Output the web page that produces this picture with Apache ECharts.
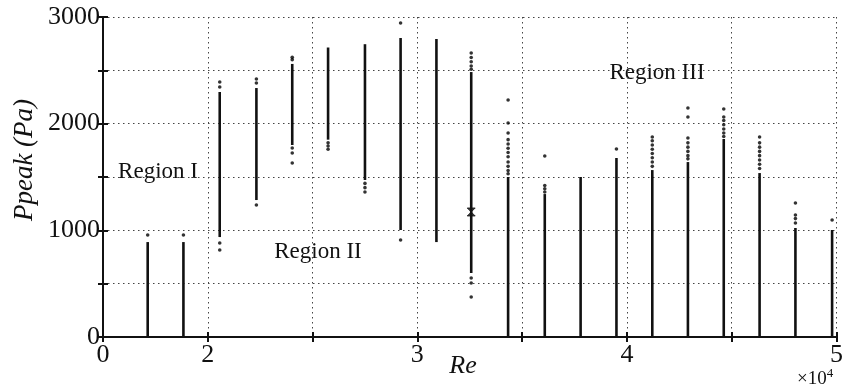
<!DOCTYPE html>
<html>
<head>
<meta charset="utf-8">
<script src="https://cdn.jsdelivr.net/npm/echarts@6/dist/echarts.min.js"></script>
<style>
  html, body { margin: 0; padding: 0; background: #fff; }
  #chart { width: 846px; height: 391px; }
</style>
</head>
<body>
<div id="chart"></div>
<script>
// Re positions of each measured column (x 10^4)
const RE = [0.853, 1.535, 2.057, 2.232, 2.403, 2.574, 2.750, 2.920, 3.091, 3.257,
            3.433, 3.608, 3.779, 3.950, 4.121, 4.291, 4.462, 4.633, 4.804, 4.979];
// solid part of each column (Pa)
const LO = [0, 0, 937, 1284, 1800, 1850, 1472, 1003, 890, 600,
            0, 0, 0, 0, 0, 0, 0, 0, 0, 0];
const HI = [890, 890, 2297, 2334, 2560, 2714, 2745, 2803, 2794, 2484,
            1500, 1340, 1500, 1678, 1565, 1640, 1856, 1537, 1022, 1003];
// scattered points around the column ends (Pa)
const DOTS = [
  [956],
  [956],
  [2391, 2344, 881, 816],
  [2419, 2381, 1237],
  [2622, 2600, 1772, 1725, 1631],
  [1820, 1790, 1760],
  [1440, 1400, 1360],
  [2944, 909],
  [],
  [2662, 2620, 2580, 2540, 2510, 553, 506, 375],
  [2222, 2006, 1912, 1850, 1810, 1770, 1730, 1690, 1640, 1600, 1560, 1530],
  [1697, 1420, 1390, 1360],
  [],
  [1762],
  [1875, 1840, 1800, 1760, 1720, 1680, 1640, 1600],
  [2147, 2062, 1866, 1820, 1780, 1740, 1700, 1670],
  [2137, 2062, 2030, 1990, 1950, 1912, 1880],
  [1875, 1820, 1780, 1740, 1700, 1660, 1620, 1580],
  [1256, 1144, 1110, 1069],
  [1097]
];
const MARK = [3.257, 1172];
// tick labels of the (broken) Re axis, one per axis step
const X_LABELS = ['0', '2', '', '3', '', '4', '', '5'];

// 0..2 is squeezed into the first step, then 0.5 per step
const toAxis = (re) => (re <= 2 ? re / 2 : 1 + (re - 2) * 2);

const FONT = "'Liberation Serif', 'DejaVu Serif', serif";
const INK = '#111';

const cols = RE.map((r, i) => [toAxis(r), LO[i], HI[i]]);
const dots = [];
DOTS.forEach((list, i) => list.forEach(p => dots.push([toAxis(RE[i]), p])));

const axisLine = { lineStyle: { color: INK, width: 2 } };
const tickIn = { inside: true, length: 5, lineStyle: { color: INK, width: 2 } };
const dotted = { show: true, lineStyle: { color: '#444', width: 1, type: [1.5, 3.5] } };

const chart = echarts.init(document.getElementById('chart'), null, { renderer: 'canvas' });
chart.setOption({
  animation: false,
  grid: { left: 103, right: 4, top: 17, bottom: 54 },
  xAxis: [
    {
      type: 'value', min: 0, max: 7, interval: 1, position: 'bottom',
      axisLine, axisTick: tickIn, splitLine: dotted,
      axisLabel: { color: INK, fontFamily: FONT, fontSize: 26, margin: 5,
                   formatter: (v) => X_LABELS[Math.round(v)] || '' }
    },
    {
      type: 'value', min: 0, max: 7, interval: 1, position: 'top',
      axisLine, axisTick: tickIn, splitLine: { show: false }, axisLabel: { show: false }
    }
  ],
  yAxis: [
    {
      type: 'value', min: 0, max: 3000, interval: 500, position: 'left',
      axisLine: { show: true, ...axisLine }, axisTick: { show: true, ...tickIn }, splitLine: dotted,
      axisLabel: { color: INK, fontFamily: FONT, fontSize: 26, margin: 3,
                   formatter: (v) => (v % 1000 === 0 ? String(v) : '') }
    },
    {
      type: 'value', min: 0, max: 3000, interval: 500, position: 'right',
      axisLine: { show: true, ...axisLine }, axisTick: { show: true, ...tickIn },
      splitLine: { show: false }, axisLabel: { show: false }
    }
  ],
  series: [
    {
      type: 'custom', data: cols, encode: { x: 0, y: [1, 2] }, z: 3,
      renderItem: (params, api) => {
        const a = api.coord([api.value(0), api.value(1)]);
        const b = api.coord([api.value(0), api.value(2)]);
        return {
          type: 'line',
          shape: { x1: a[0], y1: a[1], x2: b[0], y2: b[1] },
          style: { stroke: INK, lineWidth: 2.6 }
        };
      }
    },
    {
      type: 'scatter', data: dots, symbol: 'circle', symbolSize: 3.6, z: 3,
      itemStyle: { color: '#000' }
    },
    {
      type: 'scatter', data: [[toAxis(MARK[0]), MARK[1]]], z: 4,
      symbol: 'path://M0,0 L10,0 L0,10 L10,10 Z', symbolSize: [8, 8],
      itemStyle: { color: INK, borderColor: INK, borderWidth: 1 }
    }
  ],
  graphic: [
    { type: 'text', x: 25, y: 160, rotation: Math.PI / 2,
      style: { text: 'Ppeak (Pa)', font: `italic 27px ${FONT}`, fill: INK, align: 'center', verticalAlign: 'middle' } },
    { type: 'text', x: 463, y: 366,
      style: { text: 'Re', font: `italic 26px ${FONT}`, fill: INK, align: 'center', verticalAlign: 'middle' } },
    { type: 'text', x: 797, y: 379,
      style: { text: '×10{s|4}', font: `19px ${FONT}`, fill: INK, align: 'left', verticalAlign: 'middle',
               rich: { s: { fontFamily: FONT, fontSize: 13, verticalAlign: 'top', padding: [0, 0, 10, 0] } } } },
    { type: 'text', x: 158, y: 172,
      style: { text: 'Region I', font: `23px ${FONT}`, fill: INK, align: 'center', verticalAlign: 'middle' } },
    { type: 'text', x: 318, y: 252,
      style: { text: 'Region II', font: `23px ${FONT}`, fill: INK, align: 'center', verticalAlign: 'middle' } },
    { type: 'text', x: 657, y: 73,
      style: { text: 'Region III', font: `23px ${FONT}`, fill: INK, align: 'center', verticalAlign: 'middle' } }
  ]
});
</script>
</body>
</html>
